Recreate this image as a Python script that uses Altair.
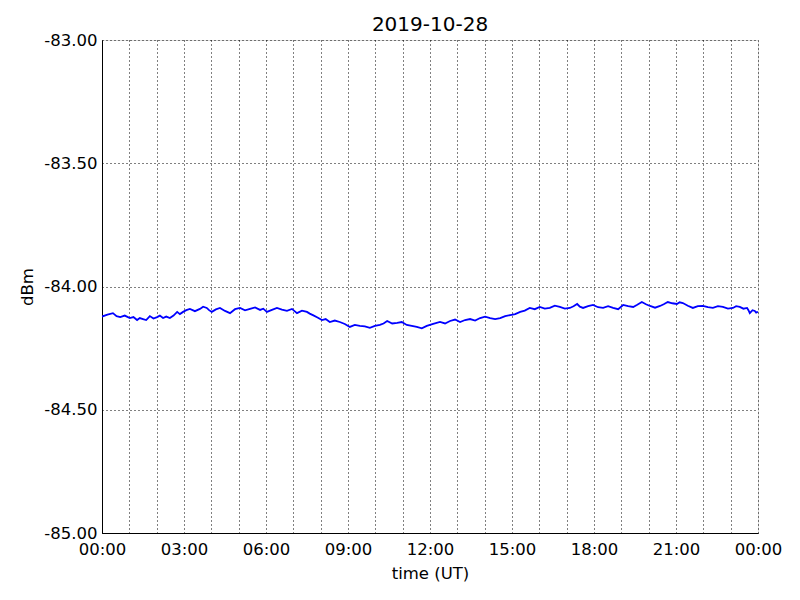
import altair as alt
import pandas as pd

# readings (minutes after 00:00 UT, dBm)
minutes = [0, 24, 40, 61, 77, 90, 105, 121, 134, 149, 165, 178, 193, 215, 230, 241,
           259, 281, 303, 325, 347, 362, 384, 406, 428, 450, 463, 483, 500, 522, 544,
           566, 588, 610, 626, 648, 669, 691, 713, 742, 764, 786, 808, 830, 852, 874,
           896, 918, 939, 961, 983, 1005, 1027, 1043, 1056, 1078, 1100, 1122, 1144,
           1166, 1185, 1203, 1225, 1242, 1262, 1275, 1297, 1319, 1341, 1363, 1385,
           1400, 1416, 1422, 1433, 1440]
dbm = [-84.122, -84.108, -84.124, -84.128, -84.136, -84.132, -84.120, -84.124, -84.128,
       -84.128, -84.103, -84.103, -84.091, -84.091, -84.087, -84.103, -84.087, -84.108,
       -84.087, -84.091, -84.095, -84.103, -84.087, -84.099, -84.108, -84.103, -84.116,
       -84.136, -84.144, -84.144, -84.164, -84.160, -84.168, -84.156, -84.140, -84.148,
       -84.156, -84.164, -84.160, -84.144, -84.140, -84.144, -84.132, -84.128, -84.128,
       -84.128, -84.116, -84.103, -84.087, -84.083, -84.087, -84.083, -84.087, -84.071,
       -84.087, -84.075, -84.087, -84.087, -84.075, -84.083, -84.063, -84.079, -84.079,
       -84.063, -84.071, -84.067, -84.087, -84.079, -84.087, -84.083, -84.087, -84.083,
       -84.087, -84.108, -84.099, -84.103]

# additional readings in between (the fine jitter of the trace)
minutes_mid = [12, 32, 50, 69, 83, 97, 113, 127, 141, 157, 171, 185, 204, 222, 235, 250,
               270, 292, 314, 336, 354, 373, 395, 417, 439, 456, 473, 491, 511, 533, 555,
               577, 599, 618, 637, 658, 680, 702, 727, 753, 775, 797, 819, 841, 863, 885,
               907, 928, 950, 972, 994, 1016, 1035, 1049, 1067, 1089, 1111, 1133, 1155,
               1175, 1194, 1214, 1233, 1252, 1268, 1286, 1308, 1330, 1352, 1374, 1392,
               1408, 1419, 1428, 1436]
dbm_mid = [-84.114, -84.120, -84.118, -84.124, -84.128, -84.136, -84.130, -84.118, -84.122,
           -84.118, -84.112, -84.096, -84.100, -84.082, -84.096, -84.093, -84.099, -84.092,
           -84.097, -84.085, -84.090, -84.095, -84.094, -84.091, -84.098, -84.110, -84.126,
           -84.132, -84.138, -84.152, -84.156, -84.162, -84.160, -84.150, -84.150, -84.144,
           -84.160, -84.170, -84.152, -84.150, -84.134, -84.136, -84.138, -84.122, -84.132,
           -84.120, -84.112, -84.098, -84.092, -84.090, -84.078, -84.090, -84.080, -84.082,
           -84.080, -84.084, -84.080, -84.092, -84.080, -84.074, -84.072, -84.086, -84.072,
           -84.068, -84.064, -84.078, -84.080, -84.084, -84.080, -84.090, -84.080, -84.090,
           -84.096, -84.096, -84.106]

y_ticks = [-85.0, -84.5, -84.0, -83.5, -83.0]
x_ticks = list(range(0, 25))

df = pd.DataFrame({"minutes": minutes + minutes_mid, "dBm": dbm + dbm_mid})
df = df.sort_values("minutes").reset_index(drop=True)
df["hours"] = df["minutes"] / 60

FONT = "DejaVu Sans"
common = dict(grid=True, gridColor="black", gridDash=[1, 3], gridWidth=1,
              tickSize=0, domainColor="black", labelFontSize=16.5, titleFontSize=16.5,
              labelColor="black", titleColor="black", titleFontWeight="normal",
              labelFont=FONT, titleFont=FONT, labelFlush=False)

chart = alt.Chart(df).mark_line(color="#0000ff", strokeWidth=1.8, clip=True).encode(
    x=alt.X("hours:Q",
            scale=alt.Scale(domain=[0, 24], nice=False, zero=False),
            axis=alt.Axis(values=x_ticks, title="time (UT)",
                          labelExpr="datum.value % 3 == 0 ? ((datum.value % 24) < 10 ? '0' : '') + (datum.value % 24) + ':00' : ''",
                          labelPadding=8, titlePadding=8, **common)),
    y=alt.Y("dBm:Q",
            scale=alt.Scale(domain=[-85, -83], nice=False, zero=False),
            axis=alt.Axis(values=y_ticks, title="dBm",
                          labelExpr="'-' + format(abs(datum.value), '.2f')",
                          labelPadding=5, titlePadding=8, **common)),
).properties(
    width=656, height=493,
    title=alt.TitleParams("2019-10-28", font=FONT, fontSize=20, fontWeight="normal",
                          color="black", offset=0, dy=3),
    autosize=alt.AutoSizeParams(type="none"),
    padding={"left": 94, "top": 32, "right": 34, "bottom": 59},
).configure_view(stroke="black", strokeWidth=1).configure(background="white")

chart.save("out.html", embed_options={"renderer": "svg", "actions": False})
